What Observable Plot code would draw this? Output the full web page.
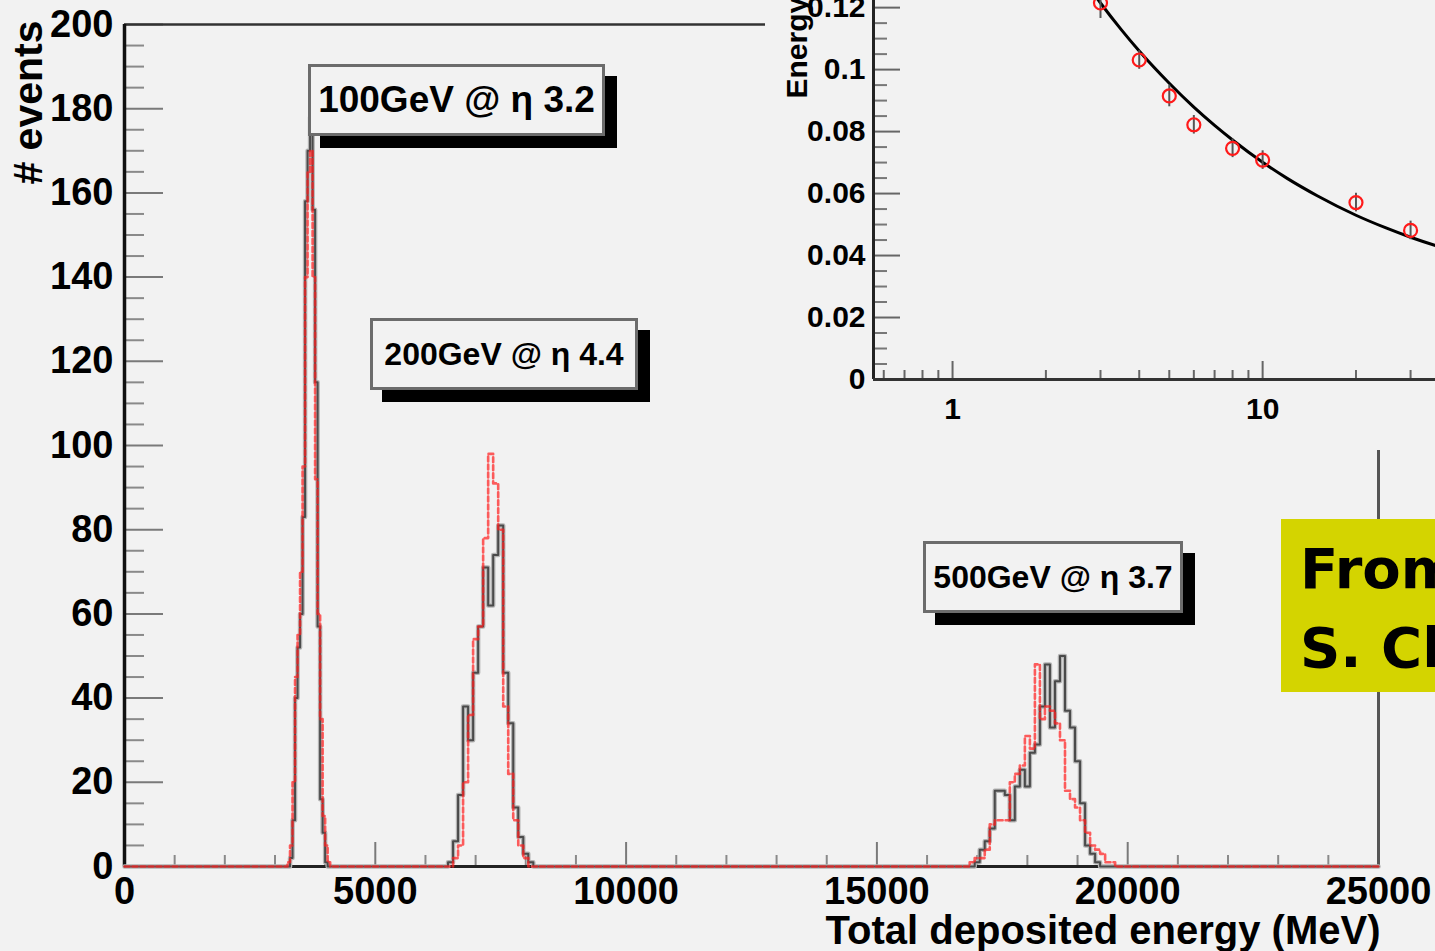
<!DOCTYPE html>
<html>
<head>
<meta charset="utf-8">
<script src="https://cdn.jsdelivr.net/npm/d3@7"></script>
<script src="https://cdn.jsdelivr.net/npm/@observablehq/plot@0.6"></script>
<style>
  html, body { margin: 0; padding: 0; background: #f2f2f2; overflow: hidden; }
  #wrap { position: relative; width: 1435px; height: 951px; overflow: hidden; background: #f2f2f2; }
  #main { position: absolute; left: 0; top: 0; }
  #inset { position: absolute; left: 765px; top: 0; width: 670px; height: 450px; background: #f2f2f2; overflow: hidden; }
  .pave { position: absolute; box-sizing: border-box; background: #f2f2f2; border: 3px solid #6c6c6c;
          box-shadow: 12px 12px 0 #000; font-family: "Liberation Sans", Arial, sans-serif; font-weight: bold;
          color: #000; display: flex; align-items: center; justify-content: center; white-space: nowrap; }
  #note { position: absolute; left: 1281px; top: 519px; width: 200px; height: 173px; background: rgb(212,212,0); }
</style>
</head>
<body>
<div id="wrap">
  <div id="main"></div>
  <div id="inset"></div>
  <div class="pave" style="left:308px;top:64px;width:297px;height:72px;font-size:37px;">100GeV @ η 3.2</div>
  <div class="pave" style="left:370px;top:318px;width:268px;height:72px;font-size:32px;">200GeV @ η 4.4</div>
  <div class="pave" style="left:923px;top:541px;width:260px;height:72px;font-size:32px;">500GeV @ η 3.7</div>
  <div id="note">
    <svg width="200" height="173">
      <text x="19" y="69" font-family="DejaVu Sans" font-weight="bold" font-size="56" fill="#000">From</text>
      <text x="19" y="148" font-family="DejaVu Sans" font-weight="bold" font-size="56" fill="#000">S. Chekanov</text>
    </svg>
  </div>
</div>
<script>
// ---------------- main plot: data ----------------
const xMajorTicks = [0, 5000, 10000, 15000, 20000, 25000];
const xMinorTicks = [1000, 2000, 3000, 4000, 6000, 7000, 8000, 9000, 11000, 12000, 13000, 14000,
                     16000, 17000, 18000, 19000, 21000, 22000, 23000, 24000];
const yMajorTicks = [0, 20, 40, 60, 80, 100, 120, 140, 160, 180, 200];
const yMinorTicks = [5, 10, 15, 25, 30, 35, 45, 50, 55, 65, 70, 75, 85, 90, 95, 105, 110, 115,
                     125, 130, 135, 145, 150, 155, 165, 170, 175, 185, 190, 195];

// 100 GeV @ eta 3.2 : 50 MeV bins starting at 3250 MeV
const h100Start = 3250, h100Width = 50;
const h100Black = [0, 2, 11, 40, 52, 60, 83, 158, 170, 178, 156, 115, 57, 16, 8, 1];
const h100Red   = [1, 5, 20, 45, 55, 70, 95, 140, 165, 170, 140, 92, 60, 35, 12, 5, 1];

// 200 GeV @ eta 4.4 : 100 MeV bins starting at 6450 MeV
const h200Start = 6450, h200Width = 100;
const h200Black = [1, 6, 17, 38, 30, 46, 57, 71, 62, 74, 81, 46, 34, 14, 7, 3, 1];
const h200Red   = [0, 2, 5, 20, 36, 54, 57, 78, 98, 91, 80, 38, 22, 11, 5, 2, 0];

// 500 GeV @ eta 3.7 : 100 MeV bins
const h500BlackStart = 16950, h500RedStart = 16850, h500Width = 100;
const h500Black = [1, 4, 6, 9, 18, 18, 17, 11, 19, 23, 19, 27, 29, 38, 48, 33, 44, 50, 37, 33, 25, 15, 5, 3, 1];
const h500Red   = [1, 2, 2, 4, 10, 11, 11, 11, 20, 22, 24, 31, 28, 48, 35, 38, 37, 34, 30, 18, 16, 14, 11, 8, 5, 4, 3, 1, 1];

// ---------------- inset: data ----------------
const resEnergies = [3, 4, 5, 6, 8, 10, 20, 30];
const resValues   = [0.1215, 0.1031, 0.0915, 0.0822, 0.0746, 0.0708, 0.0571, 0.0481];
const resErrors   = [0.005, 0.003, 0.0035, 0.003, 0.003, 0.003, 0.003, 0.003];
const fitEnergies = [2.8, 3, 3.5, 4, 5, 6, 7, 8, 10, 12, 15, 20, 25, 30, 40, 50];
const fitValues   = [0.1256, 0.1215, 0.1129, 0.1060, 0.0956, 0.0879, 0.0820, 0.0773, 0.0701, 0.0649, 0.0593, 0.0530, 0.0489, 0.0459, 0.0419, 0.0393];
const insetYMajor = [0, 0.02, 0.04, 0.06, 0.08, 0.1, 0.12];
const insetYMinor = [0.005, 0.01, 0.015, 0.025, 0.03, 0.035, 0.045, 0.05, 0.055, 0.065, 0.07, 0.075,
                     0.085, 0.09, 0.095, 0.105, 0.11, 0.115];
const insetXMajor = [1, 10];
const insetXMinor = [0.6, 0.7, 0.8, 0.9, 2, 3, 4, 5, 6, 7, 8, 9, 20, 30];

// ---------------- build histogram outlines ----------------
function outline(segments) {
  const pts = [{x: 0, y: 0}];
  for (const s of segments) {
    pts.push({x: s.start, y: 0});
    s.counts.forEach((c, i) => {
      pts.push({x: s.start + i * s.width, y: c});
      pts.push({x: s.start + (i + 1) * s.width, y: c});
    });
    pts.push({x: s.start + s.counts.length * s.width, y: 0});
  }
  pts.push({x: 25000, y: 0});
  return pts;
}
const blackLine = outline([
  {start: h100Start, width: h100Width, counts: h100Black},
  {start: h200Start, width: h200Width, counts: h200Black},
  {start: h500BlackStart, width: h500Width, counts: h500Black}
]);
const redLine = outline([
  {start: h100Start, width: h100Width, counts: h100Red},
  {start: h200Start, width: h200Width, counts: h200Red},
  {start: h500RedStart, width: h500Width, counts: h500Red}
]);

const W = 1435, H = 951, ML = 124, MR = 57, MT = 24, MB = 85;
const innerW = W - ML - MR, innerH = H - MT - MB;
const font = "Liberation Sans, Arial, sans-serif";

const main = Plot.plot({
  width: W, height: H,
  marginLeft: ML, marginRight: MR, marginTop: MT, marginBottom: MB,
  x: {domain: [0, 25000], label: null},
  y: {domain: [0, 200], label: null},
  style: {background: "transparent", fontFamily: font, fontWeight: "bold", color: "#000", overflow: "visible"},
  marks: [
    Plot.tickY(yMinorTicks, {y: d => d, insetRight: innerW - 20, stroke: "#8a8a8a", strokeWidth: 2}),
    Plot.tickY(yMajorTicks, {y: d => d, insetRight: innerW - 39, stroke: "#7a7a7a", strokeWidth: 2}),
    Plot.tickX(xMinorTicks, {x: d => d, insetTop: innerH - 11, stroke: "#8a8a8a", strokeWidth: 2}),
    Plot.tickX(xMajorTicks, {x: d => d, insetTop: innerH - 24, stroke: "#7a7a7a", strokeWidth: 2}),
    Plot.ruleY([200], {stroke: "#333", strokeWidth: 2.5}),
    Plot.ruleX([25000], {stroke: "#555", strokeWidth: 3}),
    Plot.ruleX([0], {stroke: "#111", strokeWidth: 3.5}),
    Plot.ruleY([0], {stroke: "#222", strokeWidth: 3}),
    Plot.line(blackLine, {x: "x", y: "y", stroke: "#b4b4b4", strokeWidth: 4.5}),
    Plot.line(blackLine, {x: "x", y: "y", stroke: "#4a4a4a", strokeWidth: 2}),
    Plot.line(redLine, {x: "x", y: "y", stroke: "#ff2020", strokeOpacity: 0.72, strokeWidth: 2.6, strokeDasharray: "5,3"}),
    Plot.axisY({ticks: yMajorTicks, tickSize: 0, tickPadding: 11, fontSize: 38, fontWeight: "bold",
      tickFormat: d => String(d), label: null}),
    Plot.axisX({ticks: xMajorTicks, tickSize: 0, tickPadding: 11, fontSize: 38, fontWeight: "bold",
      tickFormat: d => String(d), label: null}),
    Plot.text(["# events"], {text: d => d, frameAnchor: "top-left", dx: -96, dy: -4, rotate: -90,
      textAnchor: "end", lineAnchor: "middle", fontSize: 41, fontWeight: "bold"}),
    Plot.text(["Total deposited energy (MeV)"], {text: d => d, frameAnchor: "bottom-right", dx: 2, dy: 65,
      textAnchor: "end", lineAnchor: "middle", fontSize: 40, fontWeight: "bold"})
  ]
});
document.getElementById("main").appendChild(main);

// ---------------- inset ----------------
const IW = 670, IH = 450, IML = 108, IMB = 71;
const iInnerW = IW - IML, iInnerH = IH - IMB;
const resPoints = resEnergies.map((e, i) => ({e, r: resValues[i], err: resErrors[i]}));
const fitPoints = fitEnergies.map((e, i) => ({e, r: fitValues[i]}));

const inset = Plot.plot({
  width: IW, height: IH,
  marginLeft: IML, marginRight: 0, marginTop: 0, marginBottom: IMB,
  x: {type: "log", domain: [0.556, 36.1], label: null},
  y: {domain: [0, 0.1223], label: null},
  style: {background: "#f2f2f2", fontFamily: font, fontWeight: "bold", color: "#000"},
  marks: [
    Plot.tickY(insetYMinor, {y: d => d, insetRight: iInnerW - 14, stroke: "#777", strokeWidth: 2}),
    Plot.tickY(insetYMajor, {y: d => d, insetRight: iInnerW - 27, stroke: "#666", strokeWidth: 2}),
    Plot.tickX(insetXMinor, {x: d => d, insetTop: iInnerH - 9, stroke: "#666", strokeWidth: 2}),
    Plot.tickX(insetXMajor, {x: d => d, insetTop: iInnerH - 18, stroke: "#666", strokeWidth: 2}),
    Plot.ruleX([0.556], {stroke: "#222", strokeWidth: 3}),
    Plot.ruleY([0], {stroke: "#333", strokeWidth: 3}),
    Plot.line(fitPoints, {x: "e", y: "r", stroke: "#000", strokeWidth: 3, curve: "monotone-x", clip: true}),
    Plot.ruleX(resPoints, {x: "e", y1: d => d.r - d.err, y2: d => d.r + d.err, stroke: "#555", strokeWidth: 2, clip: true}),
    Plot.dot(resPoints, {x: "e", y: "r", r: 6.5, stroke: "#ff1a1a", strokeWidth: 2.2, fill: "none", clip: true}),
    Plot.axisY({ticks: insetYMajor, tickSize: 0, tickPadding: 8, fontSize: 30, fontWeight: "bold",
      tickFormat: d => String(Math.round(d * 100) / 100), label: null}),
    Plot.axisX({ticks: insetXMajor, tickSize: 0, tickPadding: 18, fontSize: 30, fontWeight: "bold",
      tickFormat: d => String(d), label: null}),
    Plot.text(["Energy resolution"], {text: d => d, frameAnchor: "top-left", dx: 32 - IML, dy: 98, rotate: -90,
      textAnchor: "start", lineAnchor: "middle", fontSize: 30, fontWeight: "bold"})
  ]
});
document.getElementById("inset").appendChild(inset);
</script>
</body>
</html>
